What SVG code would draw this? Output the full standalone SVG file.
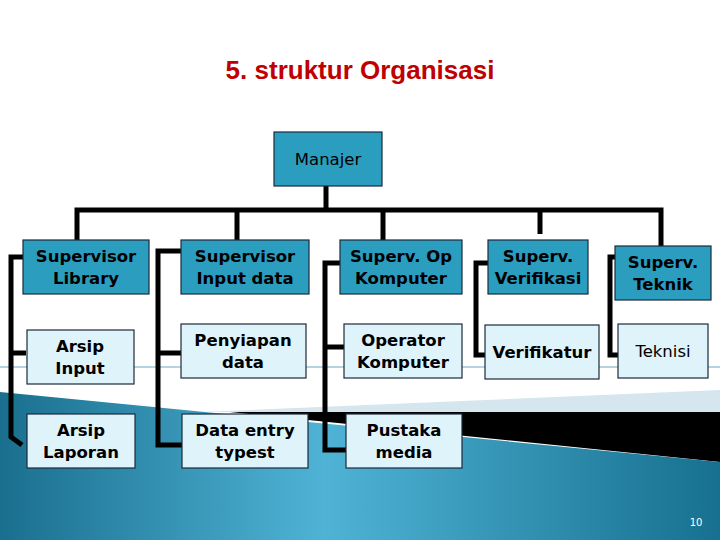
<svg xmlns="http://www.w3.org/2000/svg" width="720" height="540" viewBox="0 0 720 540">
<defs>
<linearGradient id="bg" x1="0" y1="0" x2="1" y2="0">
<stop offset="0" stop-color="#1a6f8e"/><stop offset="0.45" stop-color="#4fb3d6"/><stop offset="1" stop-color="#17708f"/>
</linearGradient>
<style>
.d{fill:#2b9ec0;stroke:#1b2b3a;stroke-width:1.2}
.l{fill:#def3fa;stroke:#1b2b3a;stroke-width:1.2}
.t{font-family:"DejaVu Sans",Verdana,sans-serif;font-weight:bold;font-size:16.5px;fill:#000;text-anchor:middle}
.c{fill:none;stroke:#000;stroke-width:5}
</style>
</defs>
<rect width="720" height="540" fill="#fff"/>
<line x1="0" y1="367" x2="720" y2="367" stroke="#6aa9c2" stroke-width="1"/>
<polygon points="200,412 720,390 720,412" fill="#d5e6ee"/>
<polygon points="230,412 720,412 720,462" fill="#000"/>
<polygon points="0,392 720,462 720,540 0,540" fill="url(#bg)"/>
<text x="360" y="79" font-family="Liberation Sans,Arial,sans-serif" font-weight="bold" font-size="26" fill="#c00000" text-anchor="middle">5. struktur Organisasi</text>
<g id="connectors" class="c">
<path d="M326,186V210M77,240V210H661V246M237,210V240M383,210V240M540,210V234"/>
<path d="M23,257H11V437L22,445M11,353H26"/>
<path d="M181,251H158V445H187M158,353H182"/>
<path d="M340,263H325V450H346M325,347H344"/>
<path d="M488,263H476V355H485"/>
<path d="M615,257H610V355H618"/>
</g>
<g id="manajer"><rect class="d" x="274" y="132" width="108" height="54"/><text class="t" x="328" y="165" font-weight="normal" style="font-weight:normal">Manajer</text></g>
<g id="sup-library"><rect class="d" x="23" y="240" width="126" height="54"/><text class="t" x="86" y="262">Supervisor</text><text class="t" x="86" y="284">Library</text></g>
<g id="sup-input"><rect class="d" x="181" y="240" width="128" height="54"/><text class="t" x="245" y="262">Supervisor</text><text class="t" x="245" y="284">Input data</text></g>
<g id="sup-op"><rect class="d" x="340" y="240" width="122" height="54"/><text class="t" x="401" y="262">Superv. Op</text><text class="t" x="401" y="284">Komputer</text></g>
<g id="sup-ver"><rect class="d" x="488" y="240" width="100" height="54"/><text class="t" x="538" y="262">Superv.</text><text class="t" x="538" y="284">Verifikasi</text></g>
<g id="sup-tek"><rect class="d" x="615" y="246" width="96" height="54"/><text class="t" x="663" y="268">Superv.</text><text class="t" x="663" y="290">Teknik</text></g>
<g id="arsip-input"><rect class="l" x="27" y="330" width="107" height="54"/><text class="t" x="80" y="352">Arsip</text><text class="t" x="80" y="374">Input</text></g>
<g id="penyiapan"><rect class="l" x="181" y="324" width="125" height="54"/><text class="t" x="243" y="346">Penyiapan</text><text class="t" x="243" y="368">data</text></g>
<g id="operator"><rect class="l" x="344" y="324" width="118" height="54"/><text class="t" x="403" y="346">Operator</text><text class="t" x="403" y="368">Komputer</text></g>
<g id="verifikatur"><rect class="l" x="485" y="325" width="114" height="54"/><text class="t" x="542" y="358">Verifikatur</text></g>
<g id="teknisi"><rect class="l" x="618" y="324" width="90" height="54"/><text class="t" x="663" y="357" style="font-weight:normal">Teknisi</text></g>
<g id="arsip-laporan"><rect class="l" x="27" y="414" width="108" height="54"/><text class="t" x="81" y="436">Arsip</text><text class="t" x="81" y="458">Laporan</text></g>
<g id="data-entry"><rect class="l" x="182" y="414" width="126" height="54"/><text class="t" x="245" y="436">Data entry</text><text class="t" x="245" y="458">typest</text></g>
<g id="pustaka"><rect class="l" x="346" y="414" width="116" height="54"/><text class="t" x="404" y="436">Pustaka</text><text class="t" x="404" y="458">media</text></g>
<text x="696" y="526" font-family="DejaVu Sans,sans-serif" font-size="10" fill="#fff" text-anchor="middle">10</text>
</svg>
